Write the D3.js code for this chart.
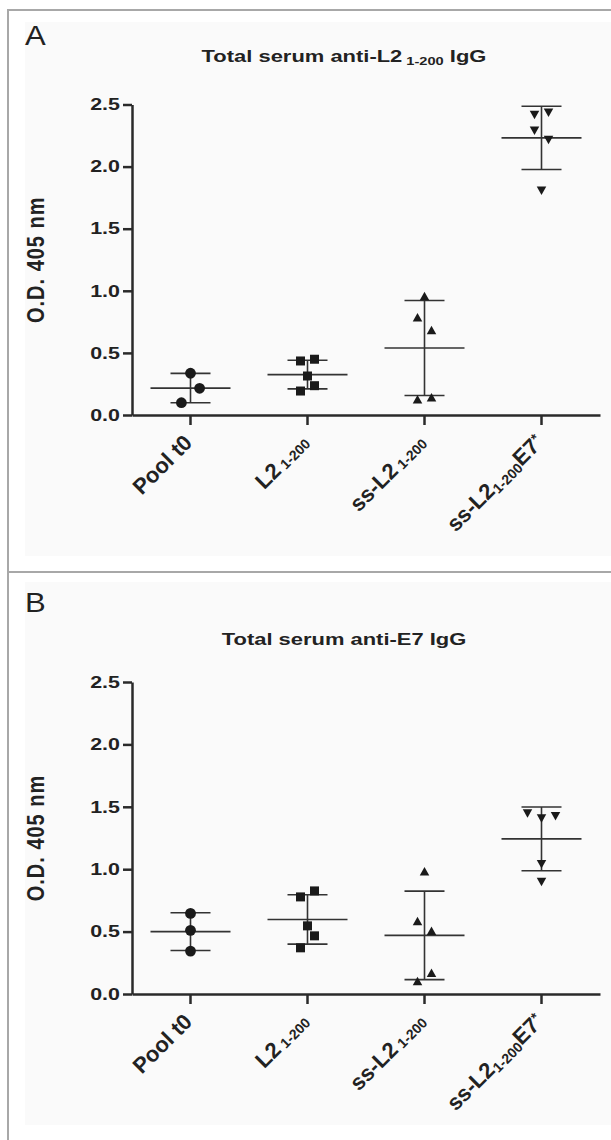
<!DOCTYPE html>
<html>
<head>
<meta charset="utf-8">
<script src="https://cdn.jsdelivr.net/npm/d3@7"></script>
<style>
body { margin: 0; background: #fff; }
text { font-family: "Liberation Sans", Arial, sans-serif; fill: #222; }
</style>
</head>
<body>
<script>
const W = 611, H = 1140;

const groups = ["Pool t0", "L2 1-200", "ss-L2 1-200", "ss-L2 1-200 E7*"];
const yTicks = [0, 0.5, 1.0, 1.5, 2.0, 2.5];

// panel A - total serum anti-L2 1-200 IgG (O.D. 405 nm per mouse)
const poolA = [0.336, 0.215, 0.099];
const l2A = [0.435, 0.449, 0.314, 0.236, 0.193];
const ssA = [0.958, 0.787, 0.684, 0.126, 0.143];
const e7A = [2.415, 2.434, 2.289, 2.214, 1.806];

// panel B - total serum anti-E7 IgG
const poolB = [0.646, 0.510, 0.344];
const l2B = [0.778, 0.826, 0.546, 0.466, 0.370];
const ssB = [0.984, 0.584, 0.506, 0.104, 0.170];
const e7B = [1.446, 1.406, 1.424, 1.040, 0.898];

// side by side placement of the dots (slot number, not data)
const slotsA = [[0, 1.3, -1.3], [-1, 1, 0, 1, -1], [0, -1, 1, -1, 1], [-1, 1, -1, 1, 0]];
const slotsB = [[0, 0, 0], [-1, 1, 0, 1, -1], [0, -1, 1, -1, 1], [-2, 0, 2, 0, 0]];

const slotW = 7;
const stretch = 1.3; // the original figure is squeezed vertically, text looks wide

const panels = [
  {id: "a", letter: "A", letterY: 45, box: [25, 22, 534],
   title: [["Total serum anti-L2", 0, 16.5], [" 1-200", 3, 11], [" IgG", -3, 16.5]],
   titleY: 62, y0: 415, y1: 104.5, values: [poolA, l2A, ssA, e7A], slots: slotsA},
  {id: "b", letter: "B", letterY: 612, box: [25, 582, 543],
   title: [["Total serum anti-E7 IgG", 0, 16.5]],
   titleY: 645, y0: 994, y1: 682, values: [poolB, l2B, ssB, e7B], slots: slotsB}
];

const labelParts = [
  [["Pool t0", 0, 22]],
  [["L2", 0, 22], [" 1-200", 1, 14]],
  [["ss-L2", 0, 22], [" 1-200", 1, 14]],
  [["ss-L2", 0, 22], ["1-200", 3, 14], ["E7", -3, 22], ["*", -6, 14]]
];

// symbols: circle, square, triangle up, triangle down
const triUp = {draw(ctx, size) { const w = 9.5, h = 8.5;
  ctx.moveTo(0, -h / 2); ctx.lineTo(w / 2, h / 2); ctx.lineTo(-w / 2, h / 2); ctx.closePath(); }};
const triDown = {draw(ctx, size) { const w = 9.5, h = 8.5;
  ctx.moveTo(0, h / 2); ctx.lineTo(w / 2, -h / 2); ctx.lineTo(-w / 2, -h / 2); ctx.closePath(); }};
const shapes = [
  d3.symbol().type(d3.symbolCircle).size(Math.PI * 5.4 * 5.4),
  d3.symbol().type(d3.symbolSquare).size(81),
  d3.symbol().type(triUp),
  d3.symbol().type(triDown)
];

const svg = d3.select("body").append("svg")
  .attr("width", W)
  .attr("height", H);

svg.append("rect").attr("width", W).attr("height", H).attr("fill", "#fff");

const defs = svg.append("defs");

// frame
svg.append("path")
  .attr("d", `M8,${H}V10H${W}M8,572H${W}`)
  .attr("fill", "none")
  .attr("stroke", "#a8a8a8")
  .attr("stroke-width", 2);

function addParts(text, parts) {
  parts.forEach(p => {
    text.append("tspan")
      .attr("dy", p[1])
      .attr("font-size", p[2])
      .text(p[0]);
  });
}

panels.forEach(p => {
  // light inner background, the figure is clipped to it
  defs.append("clipPath").attr("id", "clip-" + p.id)
    .append("rect")
    .attr("x", p.box[0]).attr("y", p.box[1])
    .attr("width", W - p.box[0]).attr("height", p.box[2]);

  svg.append("rect")
    .attr("x", p.box[0]).attr("y", p.box[1])
    .attr("width", W - p.box[0]).attr("height", p.box[2])
    .attr("fill", "#fafafa");

  const g = svg.append("g").attr("clip-path", `url(#clip-${p.id})`);

  const x = d3.scaleBand().domain(groups).range([132, 600]);
  const y = d3.scaleLinear().domain([0, 2.5]).range([p.y0, p.y1]);

  svg.append("text")
    .attr("transform", `translate(25,${p.letterY}) scale(1.15,1)`)
    .attr("font-size", 27)
    .text(p.letter);

  const title = g.append("text")
    .attr("transform", `translate(344,${p.titleY}) scale(1.33,1)`)
    .attr("text-anchor", "middle")
    .attr("font-weight", "bold");
  addParts(title, p.title);

  g.append("text")
    .attr("transform", `translate(44,${(p.y0 + p.y1) / 2}) scale(1.2,1) rotate(-90)`)
    .attr("text-anchor", "middle")
    .attr("font-weight", "bold")
    .attr("font-size", 20)
    .attr("letter-spacing", 1)
    .text("O.D. 405 nm");

  // y axis
  const ya = g.append("g")
    .attr("transform", "translate(132,0)")
    .call(d3.axisLeft(y).tickValues(yTicks).tickFormat(d3.format(".1f")).tickSize(9).tickSizeOuter(0));
  ya.selectAll("path, line").attr("stroke", "#2a2a2a").attr("stroke-width", 2.5);
  ya.selectAll("text")
    .attr("x", null)
    .attr("transform", `translate(-12,0) scale(${stretch},1)`)
    .attr("font-size", 16.5)
    .attr("font-weight", "bold")
    .attr("fill", "#222")
    .attr("font-family", null);

  // x axis
  const xa = g.append("g")
    .attr("transform", `translate(0,${p.y0})`)
    .call(d3.axisBottom(x).tickSize(10).tickSizeOuter(0).tickFormat(""));
  xa.selectAll("path, line").attr("stroke", "#2a2a2a").attr("stroke-width", 2.5);

  groups.forEach((c, i) => {
    const cx = x(c) + x.bandwidth() / 2;
    const t = g.append("text")
      .attr("transform", `translate(${cx + 3},${p.y0 + 29}) rotate(-45)`)
      .attr("text-anchor", "end")
      .attr("font-weight", "bold");
    addParts(t, labelParts[i]);
  });

  // mean and SD
  p.values.forEach((vals, i) => {
    const cx = x(groups[i]) + x.bandwidth() / 2;
    const m = d3.mean(vals), s = d3.deviation(vals);
    const lines = [
      [cx - 40, y(m), cx + 40, y(m)],
      [cx - 20, y(m + s), cx + 20, y(m + s)],
      [cx - 20, y(m - s), cx + 20, y(m - s)],
      [cx, y(m + s), cx, y(m - s)]
    ];
    g.append("g").selectAll("line")
      .data(lines)
      .enter()
      .append("line")
      .attr("x1", d => d[0]).attr("y1", d => d[1])
      .attr("x2", d => d[2]).attr("y2", d => d[3])
      .attr("stroke", "#333")
      .attr("stroke-width", 1.6);

    g.append("g").selectAll("path")
      .data(vals)
      .enter()
      .append("path")
      .attr("d", shapes[i]())
      .attr("transform", (d, j) => `translate(${cx + p.slots[i][j] * slotW},${y(d)})`)
      .attr("fill", "#1a1a1a");
  });
});
</script>
</body>
</html>
